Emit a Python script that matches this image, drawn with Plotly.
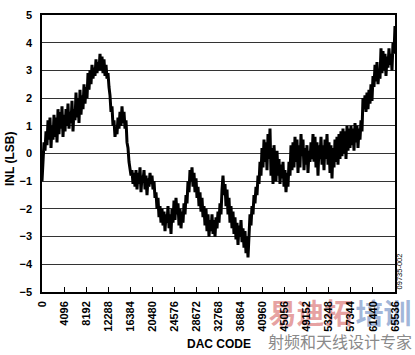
import plotly.graph_objects as go

# INL curve (one reading per ~186 codes)
inl_lsb = [
    -1.0, -0.3, 0.4, 0.1, 0.8, 0.3, 1.2, 0.5, 1.3, 0.2,
    1.0, 0.5, 1.4, 0.6, 1.3, 0.4, 1.6, 0.7, 1.5, 0.9,
    1.7, 0.6, 1.4, 0.8, 1.6, 1.0, 1.8, 0.9, 1.5, 1.1,
    1.9, 0.8, 1.6, 1.2, 2.2, 1.3, 2.0, 1.1, 2.3, 1.4,
    2.1, 1.6, 2.5, 1.8, 2.4, 2.0, 2.9, 2.3, 3.0, 2.5,
    3.2, 2.7, 3.1, 2.8, 3.4, 2.9, 3.3, 3.0, 3.6, 3.0,
    3.5, 2.9, 3.4, 2.8, 3.2, 2.7, 2.9, 2.4, 2.1, 1.5,
    1.7, 1.0, 1.2, 0.6, 0.9, 0.7, 1.3, 0.9, 1.5, 1.0,
    1.7, 1.1, 1.5, 0.9, 1.2, 0.4, 0.2, -0.3, -0.5, -0.8,
    -0.6, -1.1, -0.7, -1.2, -0.6, -1.3, -0.7, -1.1, -0.5, -1.4,
    -0.8, -1.0, -0.6, -1.3, -0.8, -1.5, -0.9, -1.2, -0.7, -1.1,
    -0.8, -1.3, -1.0, -1.6, -1.4, -2.0, -1.6, -2.3, -1.9, -2.5,
    -2.0, -2.6, -2.1, -2.8, -2.2, -2.5, -1.9, -2.7, -2.2, -2.9,
    -2.0, -2.5, -1.7, -2.4, -1.6, -2.2, -1.8, -2.6, -2.0, -2.7,
    -2.1, -2.5, -1.8, -2.2, -1.5, -1.8, -1.0, -1.4, -0.6, -1.0,
    -0.5, -1.2, -0.7, -1.4, -0.9, -1.6, -1.2, -1.9, -1.4, -2.1,
    -1.6, -2.3, -1.9, -2.6, -2.0, -2.8, -2.2, -3.0, -2.4, -2.8,
    -2.2, -2.9, -2.4, -3.0, -2.3, -2.7, -2.1, -2.5, -1.8, -2.2,
    -1.3, -0.8, -1.5, -1.1, -1.9, -1.3, -2.2, -1.6, -2.5, -1.9,
    -2.7, -2.1, -2.9, -2.3, -3.1, -2.5, -3.3, -2.6, -3.0, -2.4,
    -3.2, -2.7, -3.4, -2.8, -3.6, -3.0, -3.75, -2.8, -2.2, -2.6,
    -1.9, -2.2, -1.5, -1.8, -1.2, -1.5, -0.8, -1.1, -0.3, -0.8,
    0.2, -0.5, 0.5, -0.3, 0.4, -0.6, 0.7, -0.2, 0.9, -0.8,
    0.2, -1.1, 0.3, -0.4, -1.0, 0.1, -0.8, -0.2, -1.1, -0.4,
    -0.9, -0.3, -1.2, -0.6, -1.4, -0.7, -1.2, -0.3, -0.8, 0.3,
    -0.6, 0.4, -0.5, 0.6, -0.3, 0.5, -0.7, 0.3, -0.5, 0.7,
    -0.1, 0.5, -0.6, 0.2, -0.4, 0.3, -0.7, 0.1, -0.3, 0.4,
    -0.2, 0.7, -0.3, 0.6, -0.5, 0.4, -0.8, 0.3, -0.2, 0.6,
    -0.4, 0.3, -0.6, 0.5, -0.2, 0.7, -0.4, 0.4, -0.7, 0.3,
    -0.9, 0.2, -0.5, 0.5, -0.3, 0.6, -0.4, 0.7, -0.2, 0.8,
    -0.1, 0.9, 0.0, 0.8, -0.2, 1.0, 0.1, 0.9, 0.2, 1.0,
    0.3, 0.9, 0.1, 1.1, 0.4, 1.0, 0.2, 0.9, 0.5, 1.2,
    0.8, 2.0, 1.6, 2.1, 1.5, 2.2, 1.6, 2.3, 1.8, 2.5,
    1.9, 2.8, 2.4, 3.2, 2.6, 3.3, 2.5, 3.0, 2.7, 3.8,
    2.9, 3.7, 3.0, 3.6, 2.8, 3.5, 3.1, 3.8, 3.2, 3.6,
    3.0, 4.0, 3.6, 4.6,
]
# DAC code of each reading: the sweep from 0 to full scale
n_pts = len(inl_lsb)
dac_code = [round(i * 65535 / (n_pts - 1)) for i in range(n_pts)]

x_ticks = [0, 4096, 8192, 12288, 16384, 20480, 24576, 28672, 32768,
           36864, 40960, 45056, 49152, 53248, 57344, 61440, 65536]
x_tick_labels = [str(v) for v in x_ticks]
y_ticks = [-5, -4, -3, -2, -1, 0, 1, 2, 3, 4, 5]

FONT = "Arial, Liberation Sans, sans-serif"

fig = go.Figure()
fig.add_trace(go.Scatter(
    x=dac_code, y=inl_lsb, mode="lines",
    line=dict(color="black", width=3),
    showlegend=False, hoverinfo="skip",
))

fig.update_layout(
    width=415, height=355,
    margin=dict(l=42, r=20, t=9, b=63),
    paper_bgcolor="white", plot_bgcolor="white",
    font=dict(family=FONT, color="black"),
    xaxis=dict(
        range=[0, 65536], tickmode="array", tickvals=x_ticks, ticktext=x_tick_labels,
        tickangle=-90, tickfont=dict(size=11, weight="bold", family=FONT),
        ticks="inside", ticklen=5, tickwidth=1, tickcolor="black",
        showgrid=False, zeroline=False,
        showline=True, linecolor="black", linewidth=1.5, mirror=True,
        ticklabelstandoff=3,
    ),
    yaxis=dict(
        range=[-5, 5], tickmode="array", tickvals=y_ticks,
        tickfont=dict(size=11, weight="bold", family=FONT),
        ticks="", showgrid=True, gridcolor="#333333", gridwidth=1,
        zeroline=False,
        showline=True, linecolor="black", linewidth=1.5, mirror=True,
        ticklabelstandoff=6,
    ),
)

# axis titles
fig.add_annotation(text="<b>DAC CODE</b>", xref="paper", yref="paper",
                   x=0.5, y=-0.187, xanchor="center", yanchor="middle",
                   showarrow=False, font=dict(size=12, family=FONT, color="black"))
fig.add_annotation(text="<b>INL (LSB)</b>", xref="paper", yref="paper",
                   x=-0.0907, y=0.48, xanchor="center", yanchor="middle",
                   textangle=-90, showarrow=False,
                   font=dict(size=12, family=FONT, color="black"))
fig.add_annotation(text="09735-002", xref="paper", yref="paper",
                   x=1.014, y=0.074, xanchor="center", yanchor="middle",
                   textangle=-90, showarrow=False,
                   font=dict(size=7.5, family=FONT, color="black"))

# watermark (drawn below the axes)
CJK = "Noto Sans CJK SC"
fig.add_shape(type="rect", xref="paper", yref="paper", layer="below",
              x0=0.640, x1=0.881, y0=-0.141, y1=-0.035,
              line=dict(width=0), fillcolor="rgba(0,0,0,0)",
              label=dict(text="易迪拓", textposition="middle center",
                         font=dict(size=28, family=CJK, color="rgba(205,70,70,0.5)", weight="bold")))
fig.add_shape(type="rect", xref="paper", yref="paper", layer="below",
              x0=0.887, x1=1.048, y0=-0.141, y1=-0.035,
              line=dict(width=0), fillcolor="rgba(0,0,0,0)",
              label=dict(text="培训", textposition="middle center",
                         font=dict(size=28, family=CJK, color="rgba(70,110,180,0.5)", weight="bold")))
fig.add_shape(type="rect", xref="paper", yref="paper", layer="below",
              x0=0.632, x1=1.057, y0=-0.216, y1=-0.159,
              line=dict(width=0), fillcolor="rgba(0,0,0,0)",
              label=dict(text="射频和天线设计专家", textposition="middle center",
                         font=dict(size=16, family=CJK, color="#8a8a8a")))

fig.write_html("out.html")
